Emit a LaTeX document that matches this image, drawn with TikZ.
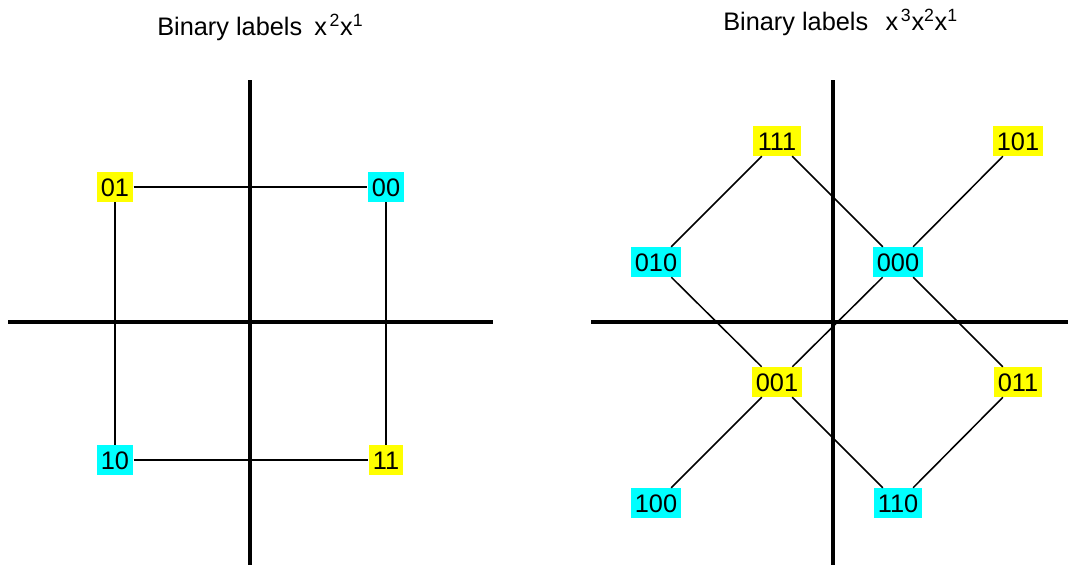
\documentclass[tikz,border=0pt]{standalone}
\usepackage{fontspec}
\setmainfont{Liberation Sans}
\definecolor{boxyellow}{RGB}{255,255,0}
\definecolor{boxcyan}{RGB}{0,255,255}
\begin{document}
\begin{tikzpicture}[x=0.75pt,y=-0.75pt,
  lab/.style={inner xsep=3.2pt,inner ysep=4.4pt,text height=13.6pt,text depth=0pt,font=\fontsize{19}{23}\selectfont},
  yel/.style={lab,fill=boxyellow},
  cya/.style={lab,fill=boxcyan},
  edge/.style={line width=1.15pt},
  axis/.style={line width=2.5pt},
  ttl/.style={anchor=base west,inner sep=0pt,font=\fontsize{19}{23}\selectfont}]
\useasboundingbox (0,0) rectangle (1068,565);
% titles
\node[ttl] (t1) at (157,35) {Binary labels\hspace{9pt}x\hspace{2pt}\textsuperscript{2}x\textsuperscript{1}};
\node[ttl] (t2) at (723,30) {Binary labels\hspace{13pt}x\hspace{2pt}\textsuperscript{3}x\textsuperscript{2}x\textsuperscript{1}};
% axes left
\coordinate (l1) at (250,80); \coordinate (l2) at (250,565);
\coordinate (l3) at (8,322); \coordinate (l4) at (493,322);
\draw[axis] (l1) -- (l2);
\draw[axis] (l3) -- (l4);
% axes right
\coordinate (r1) at (833,80); \coordinate (r2) at (833,565);
\coordinate (r3) at (591,322); \coordinate (r4) at (1068,322);
\draw[axis] (r1) -- (r2);
\draw[axis] (r3) -- (r4);
% left nodes
\node[yel] (a01) at (115,187) {01};
\node[cya] (a00) at (386,187) {00};
\node[cya] (a10) at (115,460) {10};
\node[yel] (a11) at (386,460) {11};
\draw[edge] (a01) -- (a00);
\draw[edge] (a01) -- (a10);
\draw[edge] (a00) -- (a11);
\draw[edge] (a10) -- (a11);
% right nodes
\node[yel] (b111) at (777,141) {111};
\node[yel] (b101) at (1018,141) {101};
\node[cya] (b010) at (656,262) {010};
\node[cya] (b000) at (898,262) {000};
\node[yel] (b001) at (777,382) {001};
\node[yel] (b011) at (1018,382) {011};
\node[cya] (b100) at (656,503) {100};
\node[cya] (b110) at (898,503) {110};
\draw[edge] (b111) -- (b010);
\draw[edge] (b111) -- (b000);
\draw[edge] (b101) -- (b000);
\draw[edge] (b010) -- (b001);
\draw[edge] (b000) -- (b001);
\draw[edge] (b000) -- (b011);
\draw[edge] (b001) -- (b100);
\draw[edge] (b001) -- (b110);
\draw[edge] (b011) -- (b110);
\end{tikzpicture}
\end{document}
